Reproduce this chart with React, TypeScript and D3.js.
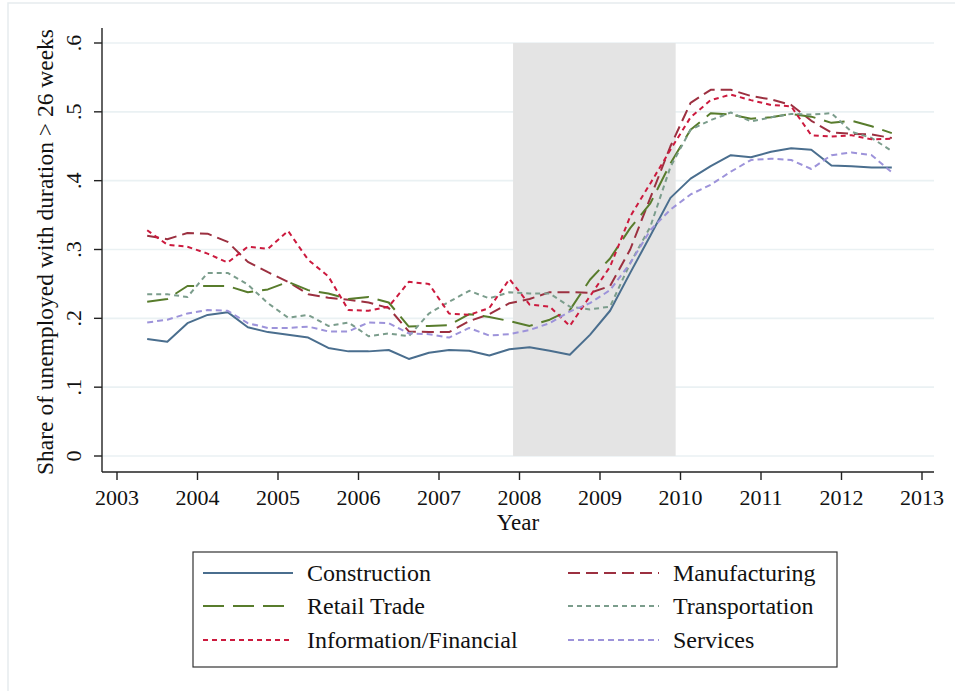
import React from "react";
import * as d3 from "d3";

// Quarterly observations, 2003 Q2 .. 2012 Q3 (decimal year at mid-quarter)
const quarters: number[] = [
  2003.375, 2003.625, 2003.875, 2004.125, 2004.375, 2004.625, 2004.875, 2005.125,
  2005.375, 2005.625, 2005.875, 2006.125, 2006.375, 2006.625, 2006.875, 2007.125,
  2007.375, 2007.625, 2007.875, 2008.125, 2008.375, 2008.625, 2008.875, 2009.125,
  2009.375, 2009.625, 2009.875, 2010.125, 2010.375, 2010.625, 2010.875, 2011.125,
  2011.375, 2011.625, 2011.875, 2012.125, 2012.375, 2012.625,
];

const construction: number[] = [
  0.170, 0.166, 0.193, 0.205, 0.209, 0.187, 0.180, 0.176, 0.172, 0.157,
  0.152, 0.152, 0.154, 0.141, 0.150, 0.154, 0.153, 0.146, 0.155, 0.158,
  0.153, 0.147, 0.176, 0.211, 0.266, 0.320, 0.375, 0.403, 0.421, 0.437,
  0.434, 0.442, 0.447, 0.445, 0.422, 0.421, 0.419, 0.419,
];
const manufacturing: number[] = [
  0.320, 0.315, 0.324, 0.323, 0.311, 0.282, 0.267, 0.253, 0.235, 0.230,
  0.227, 0.223, 0.215, 0.181, 0.180, 0.180, 0.196, 0.206, 0.222, 0.228,
  0.238, 0.238, 0.237, 0.247, 0.300, 0.375, 0.450, 0.513, 0.532, 0.532,
  0.523, 0.518, 0.510, 0.487, 0.470, 0.468, 0.467, 0.462,
];
const retailTrade: number[] = [
  0.224, 0.228, 0.247, 0.247, 0.247, 0.238, 0.242, 0.253, 0.241, 0.236,
  0.228, 0.231, 0.223, 0.188, 0.189, 0.190, 0.206, 0.202, 0.196, 0.189,
  0.198, 0.212, 0.256, 0.287, 0.331, 0.367, 0.425, 0.474, 0.498, 0.496,
  0.490, 0.492, 0.497, 0.493, 0.484, 0.487, 0.479, 0.469,
];
const transportation: number[] = [
  0.235, 0.235, 0.231, 0.266, 0.266, 0.249, 0.222, 0.201, 0.205, 0.189,
  0.194, 0.174, 0.178, 0.174, 0.207, 0.224, 0.240, 0.229, 0.238, 0.236,
  0.236, 0.217, 0.213, 0.217, 0.280, 0.333, 0.420, 0.474, 0.488, 0.499,
  0.486, 0.492, 0.497, 0.496, 0.498, 0.471, 0.462, 0.443,
];
const infoFinancial: number[] = [
  0.328, 0.307, 0.304, 0.294, 0.281, 0.304, 0.301, 0.327, 0.285, 0.261,
  0.212, 0.211, 0.217, 0.253, 0.250, 0.207, 0.205, 0.215, 0.257, 0.220,
  0.217, 0.189, 0.232, 0.275, 0.348, 0.396, 0.445, 0.492, 0.517, 0.525,
  0.517, 0.510, 0.508, 0.466, 0.464, 0.466, 0.460, 0.461,
];
const services: number[] = [
  0.194, 0.198, 0.207, 0.212, 0.211, 0.193, 0.186, 0.186, 0.188, 0.181,
  0.181, 0.194, 0.193, 0.178, 0.177, 0.172, 0.186, 0.175, 0.177, 0.183,
  0.193, 0.210, 0.222, 0.241, 0.280, 0.328, 0.358, 0.380, 0.394, 0.413,
  0.430, 0.432, 0.430, 0.417, 0.437, 0.441, 0.437, 0.412,
];

const xTicks: number[] = [2003, 2004, 2005, 2006, 2007, 2008, 2009, 2010, 2011, 2012, 2013];
const yTicks: number[] = [0, 0.1, 0.2, 0.3, 0.4, 0.5, 0.6];
const yTickLabels: string[] = ["0", ".1", ".2", ".3", ".4", ".5", ".6"];
const recession: [number, number] = [2007.92, 2009.94];

const seriesNames: string[] = [
  "Construction", "Manufacturing", "Retail Trade", "Transportation", "Information/Financial", "Services",
];
const seriesValues: number[][] = [construction, manufacturing, retailTrade, transportation, infoFinancial, services];
const seriesColors: string[] = ["#4a6e8e", "#9c3040", "#587c2c", "#7b9d8c", "#cc1a3e", "#9d93da"];
const seriesDash: string[] = ["", "12,6", "21,9", "5,4", "5,4", "6,4"];

const FONT = "'Liberation Serif', 'Times New Roman', serif";

export default function App() {
  const x = d3.scaleLinear().domain([2003, 2013]).range([117, 922]);
  const y = d3.scaleLinear().domain([0, 0.6]).range([456, 43]);
  const plotLeft = 102;
  const plotRight = 934;
  const axisY = 472;
  const axisTop = 28;

  const line = d3
    .line<[number, number]>()
    .x((d) => x(d[0]))
    .y((d) => y(d[1]));

  const legendOrder = [0, 1, 2, 3, 4, 5];
  const legendRows = [573, 606, 640];
  const legendCols = [
    { lx1: 203, lx2: 293, tx: 307 },
    { lx1: 568, lx2: 659, tx: 673 },
  ];

  return (
    <svg
      width={955}
      height={691}
      style={{ position: "absolute", left: 0, top: 0, background: "#fff" }}
      fontFamily={FONT}
    >
      <rect x={0} y={0} width={955} height={691} fill="#fff" />
      <rect x={8} y={3} width={970} height={720} fill="none" stroke="#e6ecee" strokeWidth={1.5} />

      {yTicks.map((t) => (
        <line key={"g" + t} x1={plotLeft} x2={plotRight} y1={y(t)} y2={y(t)} stroke="#eaf1f3" strokeWidth={1.6} />
      ))}

      <rect
        x={x(recession[0])}
        y={y(0.6)}
        width={x(recession[1]) - x(recession[0])}
        height={y(0) - y(0.6)}
        fill="#e4e4e4"
      />

      {seriesValues.map((vals, i) => (
        <path
          key={seriesNames[i]}
          d={line(quarters.map((q, j) => [q, vals[j]] as [number, number])) || ""}
          fill="none"
          stroke={seriesColors[i]}
          strokeWidth={2}
          strokeDasharray={seriesDash[i] || undefined}
          strokeLinejoin="round"
        />
      ))}

      <line x1={plotLeft} x2={plotLeft} y1={axisTop} y2={axisY} stroke="#222" strokeWidth={1.4} />
      <line x1={plotLeft} x2={plotRight} y1={axisY} y2={axisY} stroke="#222" strokeWidth={1.4} />
      {yTicks.map((t, i) => (
        <g key={"yt" + t}>
          <line x1={plotLeft - 8} x2={plotLeft} y1={y(t)} y2={y(t)} stroke="#222" strokeWidth={1.4} />
          <text
            transform={`translate(81,${y(t)}) rotate(-90)`}
            textAnchor="middle"
            fontSize={22}
            fill="#111"
          >
            {yTickLabels[i]}
          </text>
        </g>
      ))}
      {xTicks.map((t) => (
        <g key={"xt" + t}>
          <line x1={x(t)} x2={x(t)} y1={axisY} y2={axisY + 8} stroke="#222" strokeWidth={1.4} />
          <text x={x(t)} y={505} textAnchor="middle" fontSize={22} fill="#111">
            {t}
          </text>
        </g>
      ))}
      <text x={518} y={530} textAnchor="middle" fontSize={23} fill="#111">
        Year
      </text>
      <text
        transform={`translate(53,252) rotate(-90)`}
        textAnchor="middle"
        fontSize={23.5}
        fill="#111"
      >
        Share of unemployed with duration &gt; 26 weeks
      </text>

      <rect x={193} y={552} width={644} height={115} fill="#fff" stroke="#333" strokeWidth={1.2} />
      {legendOrder.map((si, k) => {
        const row = Math.floor(k / 2);
        const col = legendCols[k % 2];
        const ly = legendRows[row];
        return (
          <g key={"lg" + si}>
            <line
              x1={col.lx1}
              x2={col.lx2}
              y1={ly}
              y2={ly}
              stroke={seriesColors[si]}
              strokeWidth={2}
              strokeDasharray={seriesDash[si] || undefined}
            />
            <text x={col.tx} y={ly + 8} fontSize={24} fill="#111">
              {seriesNames[si]}
            </text>
          </g>
        );
      })}
    </svg>
  );
}
